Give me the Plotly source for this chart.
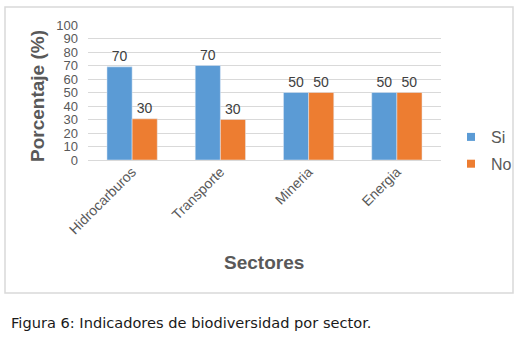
import plotly.graph_objects as go

categories = ["Hidrocarburos", "Transporte", "Mineria", "Energia"]
si_values = [69, 70, 50, 50]
no_values = [30.5, 30, 50, 50]
si_labels = ["70", "70", "50", "50"]
no_labels = ["30", "30", "50", "50"]
y_ticks = list(range(0, 101, 10))

W, H = 532, 337
L, R, T, B = 88, 441, 25, 160  # plot area in pixels

def px(x):
    return (x - L) / (R - L)

def py(y):
    return (B - y) / (B - T)

SI_COLOR = "#5B9BD5"
NO_COLOR = "#ED7D31"
GREY = "#595959"
FONT = "Liberation Sans, Arial, sans-serif"

fig = go.Figure()
fig.add_trace(go.Bar(x=categories, y=si_values, name="Si", marker_color=SI_COLOR,
                     text=si_labels, textposition="outside", cliponaxis=False,
                     textfont=dict(size=14, color="#404040", family=FONT),
                     showlegend=False))
fig.add_trace(go.Bar(x=categories, y=no_values, name="No", marker_color=NO_COLOR,
                     text=no_labels, textposition="outside", cliponaxis=False,
                     textfont=dict(size=14, color="#404040", family=FONT),
                     showlegend=False))
# legend entries with small square markers
fig.add_trace(go.Scatter(x=[None], y=[None], mode="markers", name="Si",
                         marker=dict(symbol="square", size=8, color=SI_COLOR),
                         legendgroup="a", showlegend=True))
fig.add_trace(go.Scatter(x=[None], y=[None], mode="markers", name="No",
                         marker=dict(symbol="square", size=8, color=NO_COLOR),
                         legendgroup="b", showlegend=True))

fig.update_layout(
    width=W, height=H,
    margin=dict(l=L, r=W - R, t=T, b=H - B, autoexpand=False),
    paper_bgcolor="white", plot_bgcolor="white",
    barmode="group", bargap=0.43, bargroupgap=0,
    font=dict(family=FONT, color=GREY),
    legend=dict(x=px(451), y=py(120), xanchor="left", yanchor="top",
                font=dict(size=16, color=GREY, family=FONT),
                traceorder="grouped", tracegroupgap=3,
                itemwidth=30, bgcolor="rgba(0,0,0,0)"),
    showlegend=True,
)
fig.update_xaxes(tickangle=-45, tickfont=dict(size=14, color=GREY, family=FONT),
                 showline=False, showgrid=False, ticks="", automargin=False)
fig.update_yaxes(range=[0, 100], tickvals=y_ticks, showgrid=True, gridcolor="#d9d9d9",
                 gridwidth=1, zeroline=True, zerolinecolor="#d9d9d9", zerolinewidth=1,
                 tickfont=dict(size=13, color=GREY, family=FONT), ticks="",
                 ticklabelstandoff=9, automargin=False)

fig.add_annotation(text="<b>Porcentaje (%)</b>", x=px(37), y=py(96), xref="paper", yref="paper",
                   showarrow=False, textangle=-90, font=dict(size=19, color=GREY, family=FONT),
                   xanchor="center", yanchor="middle")
fig.add_annotation(text="<b>Sectores</b>", x=px(264), y=py(262), xref="paper", yref="paper",
                   showarrow=False, font=dict(size=19, color=GREY, family=FONT),
                   xanchor="center", yanchor="middle")
fig.add_annotation(text="Figura 6: Indicadores de biodiversidad por sector.", x=px(9), y=py(322),
                   xref="paper", yref="paper", showarrow=False,
                   font=dict(size=14.6, color="#1a1a1a", family="DejaVu Sans, Verdana, sans-serif"),
                   xanchor="left", yanchor="middle")
fig.add_shape(type="rect", xref="paper", yref="paper", x0=px(5), x1=px(513), y0=py(293), y1=py(7),
              line=dict(color="#d9d9d9", width=1.5), fillcolor="rgba(0,0,0,0)", layer="below")

fig.write_html("out.html", config={"displayModeBar": False},
               post_script="document.body.style.margin='0';")
